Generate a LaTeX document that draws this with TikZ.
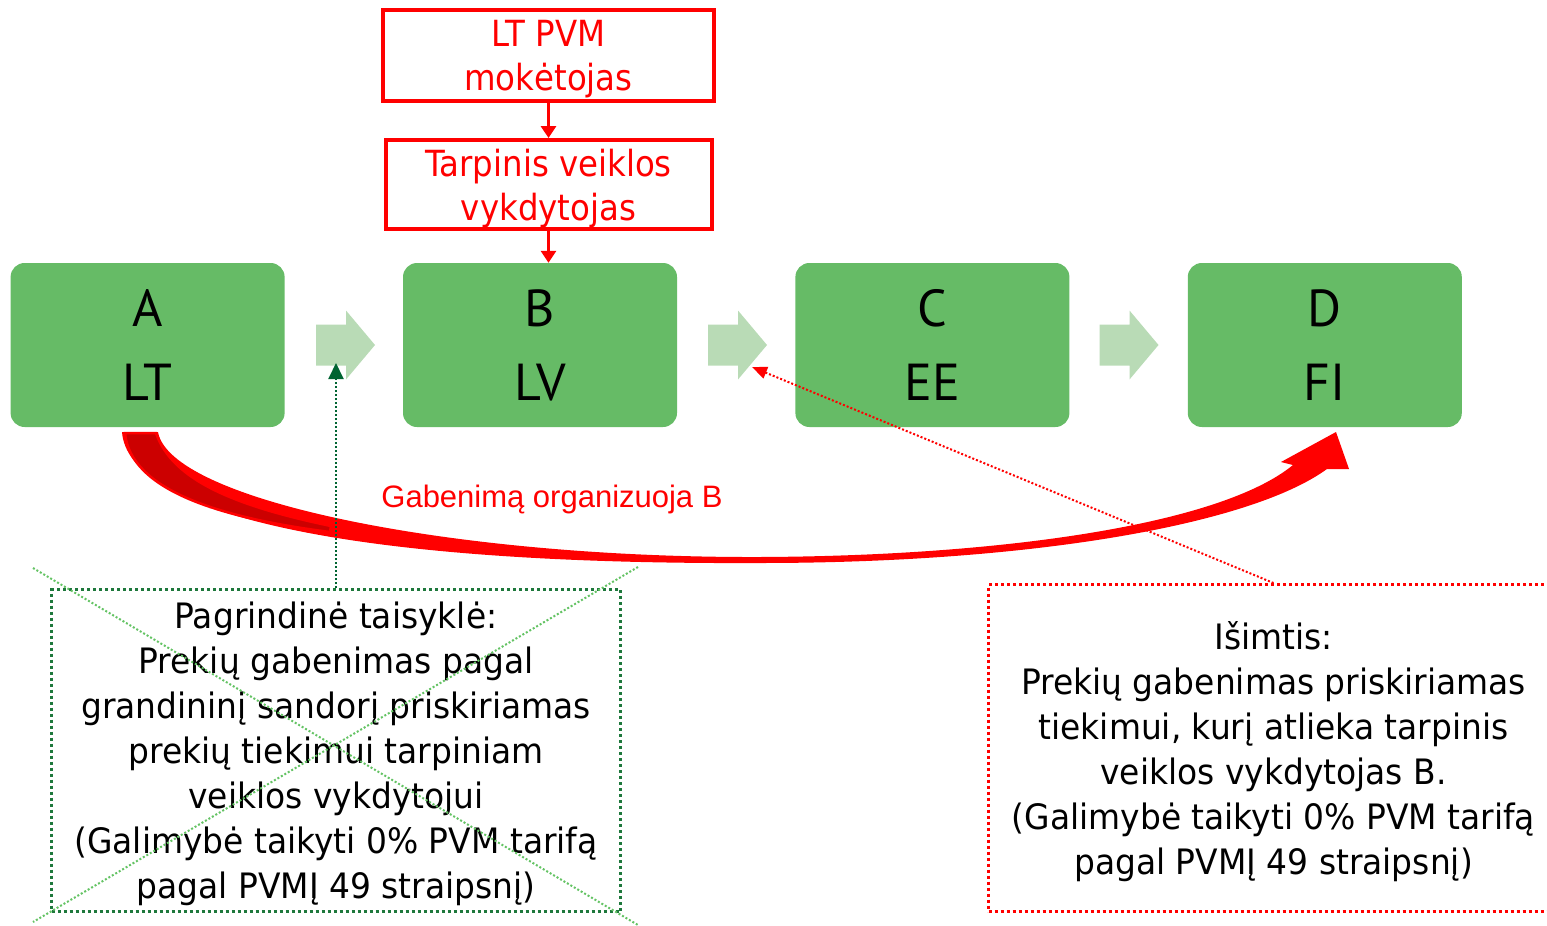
\documentclass[tikz,border=0pt]{standalone}
\usepackage{fontspec}
\usetikzlibrary{positioning,arrows.meta}
\newfontfamily\tahoma{DejaVu Sans}[FakeStretch=0.9]
\newfontfamily\notefont{DejaVu Sans}[FakeStretch=0.94]
\newfontfamily\boxfont{PT Sans}
\newfontfamily\arialfont{Liberation Sans}
\definecolor{boxgreen}{RGB}{102,187,102}
\definecolor{palegreen}{RGB}{185,219,182}
\definecolor{darkgreen}{RGB}{0,100,50}
\definecolor{rulegreen}{RGB}{30,120,60}
\definecolor{crossgreen}{RGB}{100,195,100}
\definecolor{arrowdark}{RGB}{204,0,0}

\begin{document}
\begin{tikzpicture}[x=1pt,y=-1pt,
		country/.style={rectangle,rounded corners=14pt,fill=boxgreen,minimum width=274pt,minimum height=164pt,inner sep=0pt,align=center,font={\boxfont\fontsize{52}{74}\selectfont}},
		role/.style={rectangle,draw=red,line width=4pt,inner sep=0pt,text depth=0pt,align=center,text=red,font={\tahoma\fontsize{36}{44}\selectfont}},
		note/.style={rectangle,line width=3pt,dash pattern=on 3pt off 3pt,inner sep=0pt,text depth=0pt,align=center,font={\notefont\fontsize{35}{45}\selectfont}},
		chevron/.style={fill=palegreen},
		redarrow/.style={red,line width=3.5pt,-{Triangle[length=12pt,width=15pt]}},
		hint/.style={line width=2pt,dash pattern=on 2pt off 2pt}
	]
	\useasboundingbox (0,0) rectangle (1547,926);
	\node[country] (B) at (540,345) {B\\LV};
	\node[country,left=118pt of B] (A) {A\\LT};
	\node[country,right=118pt of B] (C) {C\\EE};
	\node[country,right=118pt of C] (D) {D\\FI};
	\node[role,minimum width=331pt,minimum height=91pt] (T1) at (548.5,55.5) {LT PVM\\mokėtojas};
	\node[role,minimum width=326pt,minimum height=89pt] (T2) at (548.5,184.5) {Tarpinis veiklos\\vykdytojas};
	\path
	(T1) edge[redarrow] (T2)
	(T2.south) edge[redarrow] (T2.south |- B.north);
	\foreach \cx in {345.5,737.5,1129}
		\fill[chevron,shift={(\cx,345)}] (-29.5,-20.5) -- (0.5,-20.5) -- (0.5,-34.5) -- (29.5,0) -- (0.5,34.5) -- (0.5,20.5) -- (-29.5,20.5) -- cycle;
	\coordinate (ab) at (336,363);
	\coordinate (bc) at (752,367);
	\fill[red] (122,432) .. controls (128,510) and (330,565) .. (760,563) .. controls (1030,563) and (1250,525) .. (1327,469)
		-- (1349,469) -- (1336,432) -- (1281,462) -- (1293,465)
		.. controls (1220,525) and (1000,556) .. (760,557) .. controls (450,558) and (170,500) .. (158,432) -- cycle;
	\filldraw[fill=arrowdark,draw=red,line width=2.5pt] (125,433) .. controls (130,490) and (220,518) .. (330,532) -- (331,526) .. controls (235,506) and (172,480) .. (156,433) -- cycle;
	\node[text=red,font={\arialfont\fontsize{31}{36}\selectfont}] (route) at (552,499) {Gabenimą organizuoja B};
	\node[note,draw=rulegreen,minimum width=569pt,minimum height=322pt] (L) at (336,750.5) {Pagrindinė taisyklė:\\Prekių gabenimas pagal\\grandininį sandorį priskiriamas\\prekių tiekimui tarpiniam\\veiklos vykdytojui\\(Galimybė taikyti 0\% PVM tarifą\\pagal PVMĮ 49 straipsnį)};
	\node[note,draw=red,minimum width=570pt,minimum height=327pt] (R) at (1273.5,748) {Išimtis:\\Prekių gabenimas priskiriamas\\tiekimui, kurį atlieka tarpinis\\veiklos vykdytojas B.\\(Galimybė taikyti 0\% PVM tarifą\\pagal PVMĮ 49 straipsnį)};
	\draw[crossgreen,hint] (33,568) -- (638,925) (638,567) -- (33,922);
	\draw[darkgreen,hint,-{Triangle[length=16pt,width=15pt]}] (L.north) -- (ab);
	\draw[red,hint,-{Triangle[length=15pt,width=12pt]}] (R.north) -- (bc);
\end{tikzpicture}
\end{document}
